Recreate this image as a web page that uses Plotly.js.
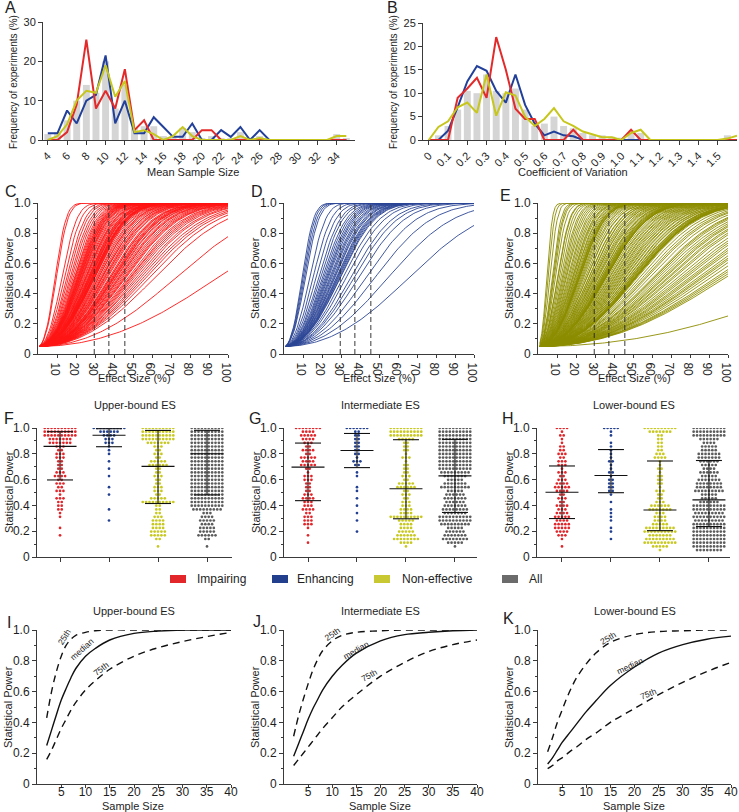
<!DOCTYPE html>
<html>
<head>
<meta charset="utf-8">
<script src="https://cdn.plot.ly/plotly-3.0.1.min.js"></script>
<style>
  body { margin: 0; background: #fff; }
  #fig { width: 739px; height: 812px; }
</style>
</head>
<body>
<div id="fig"></div>
<script>
var W = 739, H = 812;
var FONT = "Liberation Sans, Arial, sans-serif";

// ---- A: mean sample size distribution (% of experiments)
var sampleSize = [4,5,6,7,8,9,10,11,12,13,14,15,16,17,18,19,20,21,22,23,24,25,26,27,28,29,30,31,32,33,34,35];
var sizeAll = [1.5,2,5,10,14,12,20,8,14,3,3.5,3.5,1,1,3,2,0.5,1,0.5,0.5,2,0.5,1,0,0,0,0,0,0,0,1.5,0.5];
var sizeImpairing = [0,0,2,9,25.5,8,12.5,8,18,2.5,5,0,0,0,0,0,2.5,2.5,0,0,0,0,0,0,0,0,0,0,0,0,0,0];
var sizeEnhancing = [1.7,1.7,7.5,4.2,10,11.5,21.5,4.2,10,1.7,1.7,5.8,3.3,0.8,0.8,4.2,0,0,2.5,0.8,3.3,0,2.5,0,0,0,0,0,0,0,0,0];
var sizeNoneffective = [0,1,4,10,12.5,12,19,11,15,2,2.5,1.5,0,1,3.3,1,0,0,0,0,1,0,0.5,0,0,0,0,0,0,0,1,1];
var sizeTicks = [4,6,8,10,12,14,16,18,20,22,24,26,28,30,32,34];

// ---- B: coefficient of variation distribution
var cvBins = [0,0.05,0.1,0.15,0.2,0.25,0.3,0.35,0.4,0.45,0.5,0.55,0.6,0.65,0.7,0.75,0.8,0.85,0.9,0.95,1.0,1.05,1.1,1.15,1.2,1.25,1.3,1.35,1.4,1.45,1.5,1.55,1.6];
var cvAll = [0,1,3,6.5,10.5,10,14,10.5,10,11,6.5,3,3.5,5,3,2.5,1.5,1,1,0.7,0.5,1.5,1.5,0,0,0,0,0,0,0,0,1,0];
var cvImpairing = [0,0,0,9,11,13.3,9,22,15,6.7,4.5,4.5,0,0,0,2.2,0,0,0,0,0,2.2,0,0,0,0,0,0,0,0,0,0,0];
var cvEnhancing = [0,0,2,7,12.5,15.8,14.8,10.5,8,14,7.5,3.5,1,1.8,1,0.8,0,0,0,0,0,0,0,0,0,0,0,0,0,0,0,0,0];
var cvNoneffective = [0,2.8,4,7,8,5.8,14,5.2,10.2,9.5,5,3,4.5,6.8,4,3,1.8,1.2,0.6,0.6,0,1.5,2.2,0,0,0,0,0,0,0,0,0.3,0.9];

// ---- C-H: effect size (%) at which each experiment reaches 50% power
var es50Impairing = [9,9.6,12.5,13.8,15.1,15.9,16.8,17.5,18.2,18.9,19.4,19.8,20.2,20.6,20.8,21.1,21.3,21.6,21.9,22.0,22.4,22.7,22.9,
  23.3,23.8,24.2,24.7,24.9,25.2,25.6,26.1,26.3,26.6,26.8,27.1,27.3,27.4,27.8,28.1,28.2,28.4,28.5,28.7,28.9,29.2,29.3,
  29.8,30.4,30.9,31.5,31.7,32.2,32.8,33.5,33.6,34.3,34.8,35.1,35.7,36.2,37.1,37.6,37.8,38.4,38.9,39.2,39.6,39.8,40.5,
  40.9,41.7,42.2,42.6,43.4,44.1,44.8,45.3,45.8,46.9,47.7,48.5,49.3,50.2,51.4,52.3,53.8,55.1,56.4,58.2,61,72,94];
var es50Enhancing = [9.5,10,10.6,11.2,13.4,15.2,16.7,18.1,19,
  20.1,20.8,21.5,22.1,22.6,23.2,23.9,24.4,24.9,
  25.6,26.1,26.5,27.2,27.6,28,28.4,28.9,29.3,
  30.8,32.5,34.9,36.6,38.9,42.7,47.5,54.4,65.3];
var es50Noneffective = [4.6,5.3,6.2,7.4,7.9,8.3,9.1,10.2,10.4,11.1,11.8,12.6,13.1,13.7,14.3,14.9,15.6,16.1,16.7,17.2,
  17.8,18.1,18.5,19.1,19.4,19.9,20.3,20.7,20.9,21.0,21.3,21.5,21.6,21.8,
  22.3,22.8,23.4,23.9,24.6,25.3,25.5,26.4,26.6,27.3,27.5,28.2,28.7,29.3,29.5,30.2,30.7,31.2,31.6,32.3,
  32.5,32.9,33.4,33.8,34.0,34.3,34.5,34.8,35.0,35.1,35.3,35.4,35.5,35.6,
  36.3,37.0,37.4,38.1,38.6,39.3,39.7,40.4,40.9,41.5,42.1,42.8,43.3,44.0,44.4,45.2,45.6,46.5,46.8,47.6,
  47.9,48.8,49.0,49.4,49.7,50.1,50.3,50.6,50.8,50.9,51.0,51.1,51.2,51.2,
  51.8,53.1,54.6,55.8,56.7,58.2,59.9,60.6,61.5,62.9,64.2,65.3,66.1,67.5,68.4,69.8,70.9,72.8,74.5,75.8,
  77.1,78.9,80.2,81.6,83.5,85.1,86.2,88.0,90.3,92.9,94.5,96.2,98.0,152];
// lower-bound, intermediate, upper-bound effect sizes (%)
var esBounds = [29.6, 37.3, 45.7];

// ---- I-K: power vs sample size for 25th / median / 75th percentile CV
var nSample = [2,3,4,5,6,7,8,10,12,15,20,25,30,35,40];
var upperP25 = [0.43,0.60,0.73,0.83,0.90,0.94,0.965,0.985,0.995,1,1,1,1,1,1];
var upperMed = [0.25,0.35,0.45,0.545,0.62,0.69,0.75,0.83,0.88,0.935,0.978,0.993,1,1,1];
var upperP75 = [0.16,0.22,0.29,0.36,0.42,0.48,0.53,0.61,0.67,0.745,0.83,0.885,0.925,0.957,0.985];
var interP25 = [0.31,0.44,0.55,0.65,0.74,0.81,0.865,0.93,0.965,0.985,0.995,1,1,1,1];
var interMed = [0.18,0.26,0.34,0.42,0.49,0.55,0.61,0.70,0.77,0.85,0.93,0.97,0.985,0.995,1];
var interP75 = [0.12,0.16,0.20,0.24,0.28,0.32,0.36,0.43,0.50,0.58,0.70,0.79,0.86,0.905,0.935];
var lowerP25 = [0.21,0.30,0.40,0.48,0.56,0.63,0.69,0.78,0.85,0.92,0.97,0.99,0.995,1,1];
var lowerMed = [0.13,0.17,0.22,0.27,0.31,0.35,0.39,0.47,0.54,0.64,0.76,0.85,0.905,0.94,0.96];
var lowerP75 = [0.10,0.12,0.15,0.17,0.195,0.22,0.24,0.29,0.33,0.40,0.49,0.58,0.66,0.73,0.79];

var RED = "#e0262b", BLUE = "#22408f", YEL = "#c8c822", GREY = "#5c5c5c";
var groups = [
  {name: "Impairing", es50: es50Impairing, dot: RED, curve: "#ff1414", legend: "#e3262a"},
  {name: "Enhancing", es50: es50Enhancing, dot: BLUE, curve: "#2b4595", legend: "#213f8d"},
  {name: "Non-effective", es50: es50Noneffective, dot: YEL, curve: "#8c8c00", legend: "#c8c832"}
];

function px(x) { return x / W; }
function py(y) { return 1 - y / H; }

function normCdf(z) {
  var x = Math.abs(z) / Math.SQRT2;
  var t = 1 / (1 + 0.3275911 * x);
  var e = 1 - (((((1.061405429 * t - 1.453152027) * t) + 1.421413741) * t - 0.284496736) * t + 0.254829592) * t * Math.exp(-x * x);
  return z >= 0 ? 0.5 * (1 + e) : 0.5 * (1 - e);
}
function power(es, e50) {
  var k = 1.96 * es / e50;
  return normCdf(k - 1.96) + normCdf(-k - 1.96);
}

var traces = [];
var layout = {
  width: W, height: H, margin: {l: 0, r: 0, t: 0, b: 0},
  paper_bgcolor: "#fff", plot_bgcolor: "rgba(0,0,0,0)",
  showlegend: false, font: {family: FONT, color: "#1e1e1e"},
  annotations: [], shapes: []
};

function axis(extra) {
  var a = {
    showline: true, linecolor: "#3a3a3a", linewidth: 1, ticks: "outside", ticklen: 4,
    tickwidth: 1, tickcolor: "#3a3a3a", showgrid: false, zeroline: false, fixedrange: true,
    tickfont: {family: FONT, size: 12, color: "#1e1e1e"}
  };
  for (var k in extra) a[k] = extra[k];
  return a;
}
function setAxes(n, xd, yd, xo, yo) {
  var s = n === 1 ? "" : String(n);
  xo.domain = [px(xd[0]), px(xd[1])]; xo.anchor = "y" + s;
  yo.domain = [py(yd[1]), py(yd[0])]; yo.anchor = "x" + s;
  layout["xaxis" + s] = axis(xo);
  layout["yaxis" + s] = axis(yo);
  return {x: "x" + s, y: "y" + s};
}
function txt(s, x, y, size, extra) {
  var a = {text: s, x: px(x), y: py(y), xref: "paper", yref: "paper", showarrow: false,
    font: {family: FONT, size: size, color: "#1e1e1e"}, xanchor: "center", yanchor: "middle"};
  for (var k in extra) a[k] = extra[k];
  layout.annotations.push(a);
}

var powerTicks = {tickvals: [0, 0.2, 0.4, 0.6, 0.8, 1], ticktext: ["0", "0.2", "0.4", "0.6", "0.8", "1.0"],
  range: [0, 1], minor: {tickmode: "linear", tick0: 0, dtick: 0.1, ticks: "outside", ticklen: 2, tickcolor: "#3a3a3a"}};
function pt(extra) { var o = {}; for (var k in powerTicks) o[k] = powerTicks[k]; for (var j in extra) o[j] = extra[j]; return o; }

// ---------- A ----------
var ax = setAxes(1, [43, 355], [22, 140],
  {range: [3.5, 35.9], tickmode: "array", tickvals: sizeTicks, ticktext: sizeTicks.map(String),
   tickangle: -45, tickfont: {family: FONT, size: 11, color: "#1e1e1e"}},
  {range: [0, 30], tickvals: [0, 10, 20, 30], tickfont: {family: FONT, size: 11, color: "#1e1e1e"}});
traces.push({type: "bar", x: sampleSize, y: sizeAll, width: 0.72, marker: {color: "#d5d5d5", line: {width: 0}}, xaxis: ax.x, yaxis: ax.y});
[[sizeEnhancing, "#22409a"], [sizeImpairing, "#e32a2a"], [sizeNoneffective, "#c6c61c"]].forEach(function (s) {
  traces.push({type: "scatter", mode: "lines", x: sampleSize, y: s[0], line: {color: s[1], width: 2}, xaxis: ax.x, yaxis: ax.y});
});

// ---------- B ----------
ax = setAxes(2, [423, 737], [23, 140],
  {range: [-0.03, 1.6], tickvals: [0,0.1,0.2,0.3,0.4,0.5,0.6,0.7,0.8,0.9,1,1.1,1.2,1.3,1.4,1.5],
   ticktext: ["0","0.1","0.2","0.3","0.4","0.5","0.6","0.7","0.8","0.9","1.0","1.1","1.2","1.3","1.4","1.5"],
   tickangle: -45, tickfont: {family: FONT, size: 11, color: "#1e1e1e"}},
  {range: [0, 25], tickvals: [0, 5, 10, 15, 20, 25], tickfont: {family: FONT, size: 11, color: "#1e1e1e"}});
traces.push({type: "bar", x: cvBins, y: cvAll, width: 0.036, marker: {color: "#d5d5d5", line: {width: 0}}, xaxis: ax.x, yaxis: ax.y});
[[cvEnhancing, "#22409a"], [cvImpairing, "#e32a2a"], [cvNoneffective, "#c6c61c"]].forEach(function (s) {
  traces.push({type: "scatter", mode: "lines", x: cvBins, y: s[0], line: {color: s[1], width: 2}, xaxis: ax.x, yaxis: ax.y});
});

// ---------- C, D, E: power curves ----------
var curveCols = [[38, 228], [284, 474], [538, 728]];
groups.forEach(function (g, i) {
  var a = setAxes(3 + i, curveCols[i], [203, 354],
    {range: [0, 100], tickvals: [10,20,30,40,50,60,70,80,90,100], ticklen: 3, ticklabelstandoff: -4},
    pt({}));
  var x = [], y = [];
  g.es50.forEach(function (e) {
    for (var es = 1; es <= 100; es++) { x.push(es); y.push(power(es, e)); }
    x.push(null); y.push(null);
  });
  traces.push({type: "scatter", mode: "lines", x: x, y: y, line: {color: g.curve, width: 0.9}, xaxis: a.x, yaxis: a.y, hoverinfo: "skip"});
  var dx = [], dy = [];
  esBounds.forEach(function (b) { dx.push(b, b, null); dy.push(0, 1, null); });
  traces.push({type: "scatter", mode: "lines", x: dx, y: dy, line: {color: "#222", width: 0.9, dash: "5px,3px"}, xaxis: a.x, yaxis: a.y});
  txt("Statistical Power", curveCols[i][0] - 29, 278, 11, {textangle: -90});
  txt("Effect Size (%)", (curveCols[i][0] + curveCols[i][1]) / 2 + 1, 378, 11);
});

// ---------- F, G, H: swarm plots ----------
var STEP = 3.4, ROW = 3.7, PX_X = 49, PX_Y = 129, MAXROW = 10;
function swarm(vals, cat) {
  var rowH = ROW / PX_Y, step = STEP / PX_X, rows = [];
  vals.slice().sort(function (a, b) { return b - a; }).forEach(function (v) {
    var r0 = Math.round((1 - v) / rowH), r = r0;
    for (var d = 0; ; d++) {
      if ((rows[r0 + d] || []).length < MAXROW) { r = r0 + d; break; }
      if (r0 - d >= 0 && (rows[r0 - d] || []).length < MAXROW) { r = r0 - d; break; }
    }
    (rows[r] = rows[r] || []).push(v);
  });
  var x = [], y = [];
  rows.forEach(function (row, r) {
    if (!row) return;
    for (var i = 0; i < row.length; i++) { x.push(cat + (i - (row.length - 1) / 2) * step); y.push(1 - r * rowH); }
  });
  return {x: x, y: y};
}
function quantile(s, q) {
  var p = (s.length - 1) * q, lo = Math.floor(p), hi = Math.ceil(p);
  return s[lo] + (s[hi] - s[lo]) * (p - lo);
}
var swarmCols = [[37, 232, -0.47, 3.51], [284, 477, -0.49, 3.45], [537, 730, -0.51, 3.43]];
var swarmTitles = ["Upper-bound ES", "Intermediate ES", "Lower-bound ES"];
[2, 1, 0].forEach(function (bi, i) {
  var c = swarmCols[i];
  var a = setAxes(6 + i, [c[0], c[1]], [428, 557],
    {range: [c[2], c[3]], tickvals: [0, 1, 2, 3], showticklabels: false},
    pt({}));
  var all = [];
  var sets = groups.map(function (g) {
    var v = g.es50.map(function (e) { return power(esBounds[bi], e); });
    all = all.concat(v);
    return {vals: v, color: g.dot};
  });
  sets.push({vals: all, color: GREY});
  sets.forEach(function (s, k) {
    var sw = swarm(s.vals, k);
    traces.push({type: "scatter", mode: "markers", x: sw.x, y: sw.y, marker: {size: 2.7, color: s.color, line: {width: 0}}, xaxis: a.x, yaxis: a.y});
    var so = s.vals.slice().sort(function (p, q) { return p - q; });
    var q1 = quantile(so, 0.25), md = quantile(so, 0.5), q3 = Math.min(1, quantile(so, 0.75));
    var m = 16.5 / PX_X, w = 13 / PX_X;
    traces.push({type: "scatter", mode: "lines",
      x: [k - m, k + m, null, k - w, k + w, null, k - w, k + w, null, k, k],
      y: [md, md, null, q3, q3, null, q1, q1, null, q1, q3],
      line: {color: "#111", width: 1.1}, xaxis: a.x, yaxis: a.y});
  });
  txt(swarmTitles[i], (c[0] + c[1]) / 2, 405, 11);
  txt("Statistical Power", c[0] - 28, 492, 11, {textangle: -90});
});

// ---------- legend ----------
var legendPos = [[170, 195], [272, 295], [374, 400], [502, 527]];
var legendItems = groups.map(function (g) { return [g.name, g.legend]; }).concat([["All", "#6b6b6b"]]);
legendItems.forEach(function (it, i) {
  layout.shapes.push({type: "rect", xref: "paper", yref: "paper", x0: px(legendPos[i][0]), x1: px(legendPos[i][0] + 16),
    y0: py(583), y1: py(575), fillcolor: it[1], line: {width: 0}});
  txt(it[0], legendPos[i][1], 579, 12, {xanchor: "left"});
});

// ---------- I, J, K ----------
var nCols = [[37, 231], [284, 477], [538, 731]];
var nSets = [[upperP25, upperMed, upperP75], [interP25, interMed, interP75], [lowerP25, lowerMed, lowerP75]];
var nLabels = [
  [[5.6, 0.955, -58], [9.3, 0.875, -42], [13.2, 0.745, -38]],
  [[10.0, 0.975, -35], [15.0, 0.87, -30], [17.8, 0.705, -30]],
  [[14.6, 0.945, -32], [19.0, 0.765, -25], [22.8, 0.585, -22]]
];
nSets.forEach(function (set, i) {
  var a = setAxes(9 + i, nCols[i], [630, 784],
    {range: [0, 40], tickvals: [5, 10, 15, 20, 25, 30, 35, 40], ticklen: 3, ticklabelstandoff: -6},
    pt({}));
  set.forEach(function (ys, k) {
    traces.push({type: "scatter", mode: "lines", x: nSample, y: ys,
      line: {color: "#111", width: 1.4, shape: "spline", smoothing: 1, dash: k === 1 ? "solid" : "7px,5px"},
      xaxis: a.x, yaxis: a.y});
  });
  ["25th", "median", "75th"].forEach(function (s, k) {
    var l = nLabels[i][k];
    layout.annotations.push({text: s, x: l[0], y: l[1], xref: a.x, yref: a.y, showarrow: false, textangle: l[2],
      font: {family: FONT, size: 8.5, color: "#1e1e1e"}});
  });
  txt(swarmTitles[i], (nCols[i][0] + nCols[i][1]) / 2, 611, 11);
  txt("Statistical Power", nCols[i][0] - 29, 707, 11, {textangle: -90});
  txt("Sample Size", (nCols[i][0] + nCols[i][1]) / 2 - 1, 806, 11);
});

// ---------- A/B axis titles and panel letters ----------
txt("Frequency of experiments (%)", 13, 82, 10, {textangle: -90});
txt("Frequency of experiments (%)", 393, 82, 10, {textangle: -90});
txt("Mean Sample Size", 193, 172, 11);
txt("Coefficient of Variation", 573, 172, 11);
[["A", 3, 8], ["B", 385, 8], ["C", 3, 192], ["D", 249, 192], ["E", 498, 195],
 ["F", 2, 418], ["G", 247, 418], ["H", 500, 418], ["I", 5, 622], ["J", 251, 621], ["K", 501, 618]].forEach(function (l) {
  txt(l[0], l[1], l[2], 16, {xanchor: "left"});
});

Plotly.newPlot("fig", traces, layout, {displayModeBar: false, staticPlot: true});
</script>
</body>
</html>
